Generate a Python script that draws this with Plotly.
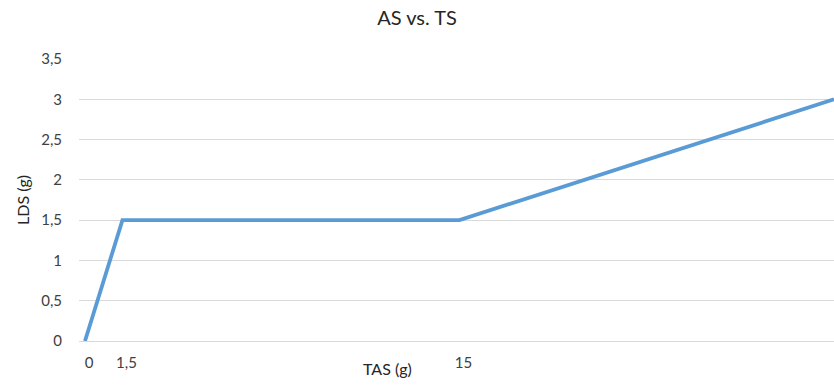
import plotly.graph_objects as go

tas = [0, 1.5, 15, 30]
lds = [0, 1.5, 1.5, 3]
x_tickvals = [0, 1.5, 15]
x_ticktext = ["0", "1,5", "15"]
y_tickvals = [0, 0.5, 1, 1.5, 2, 2.5, 3, 3.5]
y_ticktext = ["0", "0,5", "1", "1,5", "2", "2,5", "3", "3,5"]

fig = go.Figure()
fig.add_trace(go.Scatter(x=tas, y=lds, mode="lines",
                         line=dict(color="#5B9BD5", width=3.8),
                         showlegend=False, cliponaxis=False))

font = "Lato, 'Open Sans', sans-serif"
fig.update_layout(
    width=834, height=385,
    margin=dict(l=79, r=0, t=59, b=44, autoexpand=False),
    paper_bgcolor="white", plot_bgcolor="white",
    title=dict(text="AS vs. TS", x=0.5, xanchor="center", y=0.953, yanchor="middle",
               font=dict(family=font, size=20, color="#262626")),
    font=dict(family=font, size=15, color="#404040"),
    xaxis=dict(range=[-0.24, 30], tickvals=x_tickvals, ticktext=x_ticktext,
               showgrid=False, zeroline=False, showline=False, ticks="",
               automargin=False, ticklabelshift=4, ticklabelstandoff=11),
    yaxis=dict(range=[0, 3.5], tickvals=y_tickvals, ticktext=y_ticktext,
               showgrid=True, gridcolor="#D9D9D9", gridwidth=1,
               zeroline=True, zerolinecolor="#D9D9D9", zerolinewidth=1,
               showline=False, ticks="", ticklabelstandoff=16, automargin=False),
    annotations=[
        dict(text="TAS (g)", xref="paper", yref="paper", x=0.408, y=-0.099,
             xanchor="center", yanchor="middle", showarrow=False,
             font=dict(family=font, size=16, color="#262626")),
        dict(text="LDS (g)", xref="paper", yref="paper", x=-0.0755, y=0.5,
             xanchor="center", yanchor="middle", textangle=-90, showarrow=False,
             font=dict(family=font, size=16, color="#262626")),
    ],
)
fig.write_html("out.html", config={"displayModeBar": False},
               post_script="document.body.style.margin='0';document.body.style.overflow='hidden';")
